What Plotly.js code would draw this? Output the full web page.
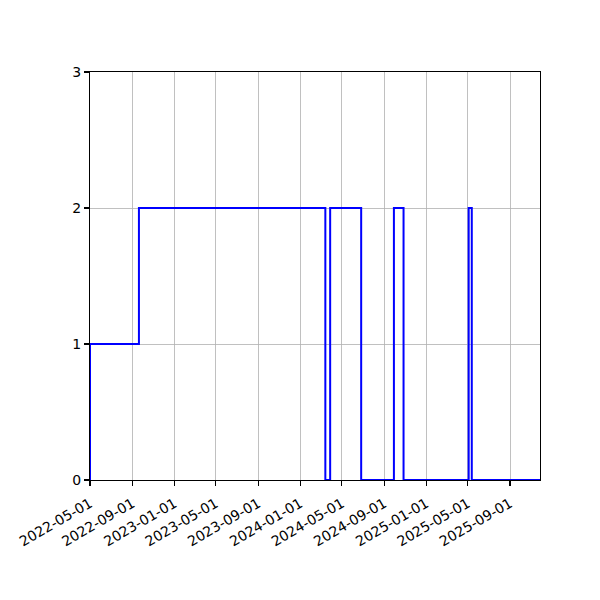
<!DOCTYPE html>
<html>
<head>
<meta charset="utf-8">
<script src="https://cdn.plot.ly/plotly-3.0.1.min.js"></script>
<style>html,body{margin:0;padding:0;background:#fff;}#chart{width:600px;height:600px;}</style>
</head>
<body>
<div id="chart"></div>
<script>
// Step data (value holds until next date)
const dates = [
  "2022-05-01", "2022-05-01", "2022-09-20", "2024-03-14", "2024-03-28",
  "2024-06-26", "2024-09-29", "2024-10-27", "2025-05-04", "2025-05-13", "2025-11-27"
];
const values = [0, 1, 2, 0, 2, 0, 2, 0, 2, 0, 0];
const xTickVals = ["2022-05-01","2022-09-01","2023-01-01","2023-05-01","2023-09-01",
  "2024-01-01","2024-05-01","2024-09-01","2025-01-01","2025-05-01","2025-09-01"];
const yTickVals = [0, 1, 2, 3];
const xRange = ["2022-05-01", "2025-11-27"];

const trace = {
  x: dates, y: values, type: "scatter", mode: "lines",
  line: {shape: "hv", color: "#0000ff", width: 2},
  hoverinfo: "skip"
};
const axisCommon = {
  showline: true, mirror: true, linecolor: "#000", linewidth: 1.1,
  ticks: "outside", ticklen: 5, tickwidth: 1.1, tickcolor: "#000",
  showgrid: true, gridcolor: "#b0b0b0", gridwidth: 0.8,
  zeroline: false,
  tickfont: {family: "DejaVu Sans", size: 14, color: "#000"}
};
const layout = {
  width: 600, height: 600,
  margin: {l: 90, r: 60, t: 72, b: 120},
  paper_bgcolor: "#fff", plot_bgcolor: "#fff",
  showlegend: false,
  xaxis: Object.assign({}, axisCommon, {
    type: "date", range: xRange, tickmode: "array",
    tickvals: xTickVals, ticktext: xTickVals, tickangle: -30,
    ticklabelstandoff: 4
  }),
  yaxis: Object.assign({}, axisCommon, {
    range: [0, 3], tickmode: "array", tickvals: yTickVals,
    ticktext: yTickVals.map(String)
  })
};
Plotly.newPlot("chart", [trace], layout, {displayModeBar: false, staticPlot: true});
</script>
</body>
</html>
